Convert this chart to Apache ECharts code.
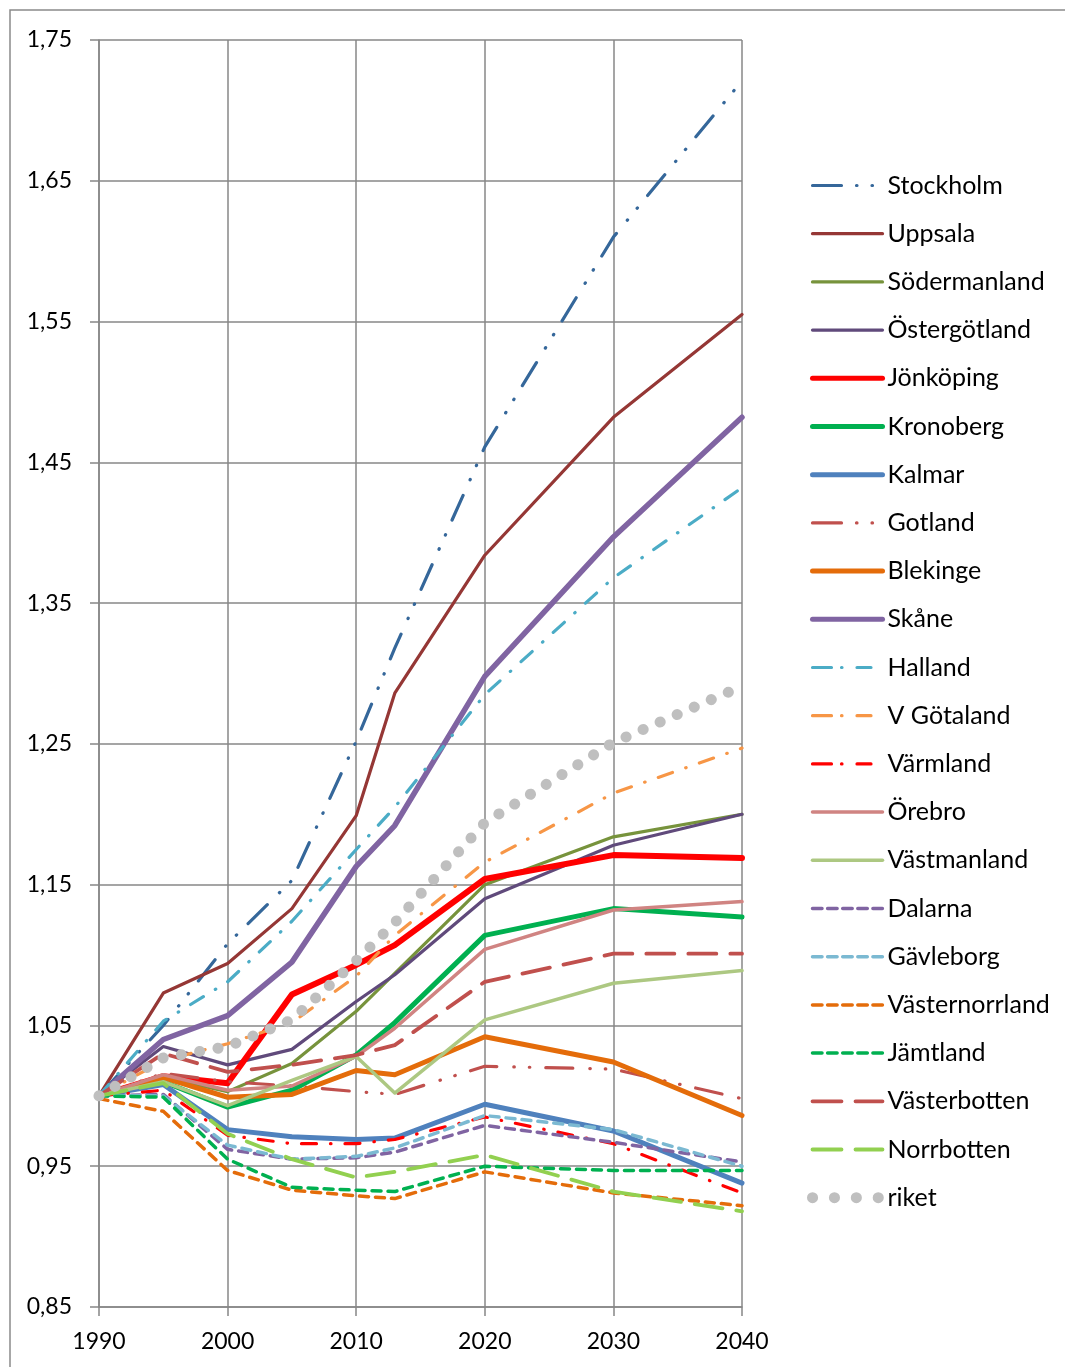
<!DOCTYPE html>
<html>
<head>
<meta charset="utf-8">
<script src="https://cdn.jsdelivr.net/npm/echarts@6/dist/echarts.min.js"></script>
<style>
html,body{margin:0;padding:0;background:#fff;}
#chart{width:1065px;height:1367px;}
</style>
</head>
<body>
<div id="chart"></div>
<script>
const years = [1990, 1995, 2000, 2005, 2010, 2013, 2020, 2030, 2040];
const yTicks = ['0,85','0,95','1,05','1,15','1,25','1,35','1,45','1,55','1,65','1,75'];

const stockholm     = [1.000, 1.050, 1.108, 1.153, 1.252, 1.318, 1.461, 1.610, 1.721];
const uppsala       = [1.000, 1.073, 1.094, 1.133, 1.199, 1.286, 1.384, 1.482, 1.555];
const sodermanland  = [1.000, 1.013, 1.003, 1.023, 1.060, 1.087, 1.150, 1.184, 1.200];
const ostergotland  = [1.000, 1.035, 1.022, 1.033, 1.067, 1.086, 1.140, 1.178, 1.200];
const jonkoping     = [1.000, 1.014, 1.009, 1.072, 1.093, 1.107, 1.154, 1.171, 1.169];
const kronoberg     = [1.000, 1.010, 0.992, 1.004, 1.029, 1.052, 1.114, 1.133, 1.127];
const kalmar        = [1.000, 1.008, 0.976, 0.971, 0.969, 0.970, 0.994, 0.975, 0.938];
const gotland       = [1.000, 1.016, 1.010, 1.007, 1.003, 1.001, 1.021, 1.019, 0.998];
const blekinge      = [1.000, 1.013, 0.999, 1.001, 1.018, 1.015, 1.042, 1.024, 0.986];
const skane         = [1.000, 1.040, 1.057, 1.095, 1.163, 1.192, 1.298, 1.397, 1.482];
const halland       = [1.000, 1.053, 1.081, 1.124, 1.175, 1.205, 1.285, 1.368, 1.432];
const vgotaland     = [1.000, 1.025, 1.037, 1.052, 1.085, 1.114, 1.166, 1.215, 1.247];
const varmland      = [1.000, 1.004, 0.972, 0.966, 0.966, 0.969, 0.985, 0.966, 0.931];
const orebro        = [1.000, 1.015, 1.004, 1.007, 1.028, 1.048, 1.104, 1.132, 1.138];
const vastmanland   = [1.000, 1.010, 0.993, 1.011, 1.028, 1.002, 1.054, 1.080, 1.089];
const dalarna       = [1.000, 1.001, 0.962, 0.955, 0.956, 0.960, 0.979, 0.967, 0.953];
const gavleborg     = [1.000, 1.000, 0.965, 0.955, 0.957, 0.963, 0.986, 0.976, 0.950];
const vasternorrland= [0.998, 0.989, 0.947, 0.933, 0.929, 0.927, 0.946, 0.931, 0.922];
const jamtland      = [1.000, 0.999, 0.955, 0.935, 0.933, 0.932, 0.950, 0.947, 0.947];
const vasterbotten  = [1.000, 1.030, 1.017, 1.022, 1.029, 1.036, 1.081, 1.101, 1.101];
const norrbotten    = [1.000, 1.009, 0.973, 0.955, 0.942, 0.946, 0.958, 0.932, 0.918];
const riket         = [1.000, 1.027, 1.035, 1.054, 1.096, 1.123, 1.194, 1.251, 1.291];

// style definitions (not data)
const DDOT = [27, 17, 0.5, 15, 0.5, 16];
const DDOT_LEG = [29, 15, 0.5, 15, 0.5, 30];
const DDASH = [15, 14, 0.5, 14];
const DDASH_LEG = [19, 10, 0.5, 15, 14, 30];
const SHORT = [9, 7];
const SHORT_LEG = [9.5, 5.6];
const LONG = [28, 14];
const LONG_LEG = [29, 14, 27, 30];

const defs = [
  {name:'Stockholm', data:stockholm, color:'#35679A', width:3.2, type:DDOT, leg:DDOT_LEG},
  {name:'Uppsala', data:uppsala, color:'#953735', width:3.2, type:'solid'},
  {name:'Södermanland', data:sodermanland, color:'#77933C', width:3.2, type:'solid'},
  {name:'Östergötland', data:ostergotland, color:'#604A7B', width:3.2, type:'solid'},
  {name:'Jönköping', data:jonkoping, color:'#FF0000', width:6, type:'solid'},
  {name:'Kronoberg', data:kronoberg, color:'#00B050', width:5, type:'solid'},
  {name:'Kalmar', data:kalmar, color:'#4F81BD', width:5, type:'solid'},
  {name:'Gotland', data:gotland, color:'#C0504D', width:3.2, type:DDOT, leg:DDOT_LEG},
  {name:'Blekinge', data:blekinge, color:'#E46C0A', width:5, type:'solid'},
  {name:'Skåne', data:skane, color:'#8064A2', width:5.5, type:'solid'},
  {name:'Halland', data:halland, color:'#4BACC6', width:3.2, type:DDASH, leg:DDASH_LEG},
  {name:'V Götaland', data:vgotaland, color:'#F79646', width:3.2, type:DDASH, leg:DDASH_LEG},
  {name:'Värmland', data:varmland, color:'#FF0000', width:3.2, type:DDASH, leg:DDASH_LEG},
  {name:'Örebro', data:orebro, color:'#D08482', width:3.5, type:'solid'},
  {name:'Västmanland', data:vastmanland, color:'#ADC882', width:3.5, type:'solid'},
  {name:'Dalarna', data:dalarna, color:'#8064A2', width:3.5, type:SHORT, leg:SHORT_LEG},
  {name:'Gävleborg', data:gavleborg, color:'#7BB9D2', width:3.5, type:SHORT, leg:SHORT_LEG},
  {name:'Västernorrland', data:vasternorrland, color:'#E46C0A', width:3.5, type:SHORT, leg:SHORT_LEG},
  {name:'Jämtland', data:jamtland, color:'#00B050', width:3.5, type:SHORT, leg:SHORT_LEG},
  {name:'Västerbotten', data:vasterbotten, color:'#C0504D', width:3.8, type:LONG, leg:LONG_LEG},
  {name:'Norrbotten', data:norrbotten, color:'#92D050', width:3.8, type:LONG, leg:LONG_LEG},
  {name:'riket', data:riket, color:'#BFBFBF', width:11, type:[0.1, 18.5], leg:[0.1, 21.8]}
];

const FONT = 'Lato, "Noto Sans", "Liberation Sans", sans-serif';
const GRID = '#878787';

const series = defs.map(d => ({
  name: d.name,
  type: 'line',
  data: years.map((y, i) => [y, d.data[i]]),
  symbol: 'none',
  smooth: false,
  silent: true,
  animation: false,
  color: d.color,
  lineStyle: {color: d.color, width: d.width, type: d.type, cap: 'round', join: 'round'}
}));

const legendData = defs.map(d => ({
  name: d.name,
  itemStyle: {opacity: 0},
  lineStyle: {color: d.color, width: d.name === 'riket' ? 11 : Math.min(d.width, 5), type: d.leg || 'solid', cap: 'round', opacity: 1}
}));

const chart = echarts.init(document.getElementById('chart'), null, {renderer: 'canvas'});
chart.setOption({
  animation: false,
  backgroundColor: '#fff',
  textStyle: {fontFamily: FONT},
  grid: {left: 99, right: 323, top: 40, bottom: 60, containLabel: false},
  graphic: [{
    type: 'rect', silent: true,
    shape: {x: 10, y: 10, width: 1200, height: 1500},
    style: {fill: 'none', stroke: '#8a8a8a', lineWidth: 1.5}
  }],
  legend: {
    orient: 'vertical',
    left: 807,
    top: 173,
    padding: 0,
    itemWidth: 70,
    itemHeight: 14,
    itemGap: 23.2,
    selectedMode: false,
    itemStyle: {opacity: 0},
    textStyle: {fontSize: 25, color: '#000', fontFamily: FONT, lineHeight: 25},
    data: legendData
  },
  xAxis: {
    type: 'value', min: 1990, max: 2040, interval: 10,
    axisLine: {show: true, lineStyle: {color: GRID, width: 1.5}},
    axisTick: {show: true, length: 9, inside: false, lineStyle: {color: GRID, width: 1.5}},
    splitLine: {show: true, lineStyle: {color: GRID, width: 1.5}},
    axisLabel: {margin: 23, fontSize: 23, color: '#000', fontFamily: FONT, formatter: v => String(v)}
  },
  yAxis: {
    type: 'value', min: 0.85, max: 1.75, interval: 0.1,
    axisLine: {show: true, lineStyle: {color: GRID, width: 1.5}},
    axisTick: {show: true, length: 9, inside: false, lineStyle: {color: GRID, width: 1.5}},
    splitLine: {show: true, lineStyle: {color: GRID, width: 1.5}},
    axisLabel: {margin: 27, fontSize: 23, color: '#000', fontFamily: FONT,
      formatter: v => v.toFixed(2).replace('.', ',')}
  },
  series: series
});
</script>
</body>
</html>
